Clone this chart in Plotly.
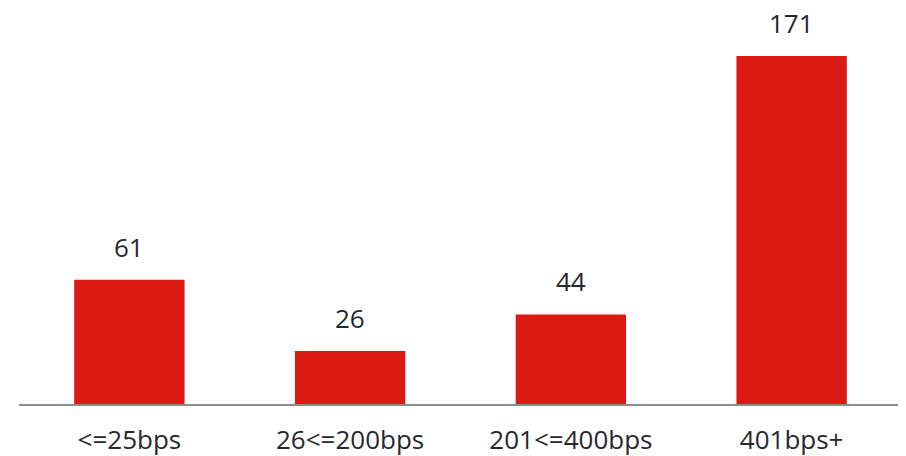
import plotly.graph_objects as go

categorias = ['<=25bps', '26<=200bps', '201<=400bps', '401bps+']
valores = [61, 26, 44, 171]

fig = go.Figure()
fig.add_trace(go.Bar(
    x=categorias,
    y=valores,
    marker_color='#da1a13',
    marker_line_width=0,
))

# etiquetas de valor encima de cada barra
for cat, val in zip(categorias, valores):
    fig.add_annotation(
        x=cat, y=val, text=str(val),
        showarrow=False, yanchor='bottom', yshift=13,
        font=dict(family='Open Sans', size=26, color='#262830'),
    )

# la pagina deja 8px de margen en body, se compensa aqui
fig.update_layout(
    width=898, height=448,
    margin=dict(l=11, r=4, t=0, b=52),
    plot_bgcolor='white', paper_bgcolor='white',
    bargap=0.5,
    showlegend=False,
    font=dict(family='Open Sans', size=26, color='#262830'),
)
fig.update_xaxes(
    showline=True, linecolor='#8c8c8c', linewidth=2,
    ticks='outside', ticklen=12, tickcolor='rgba(0,0,0,0)',
    showgrid=False, automargin=False,
)
fig.update_yaxes(visible=False, range=[0, 194.6])

fig.write_html('out.html')
